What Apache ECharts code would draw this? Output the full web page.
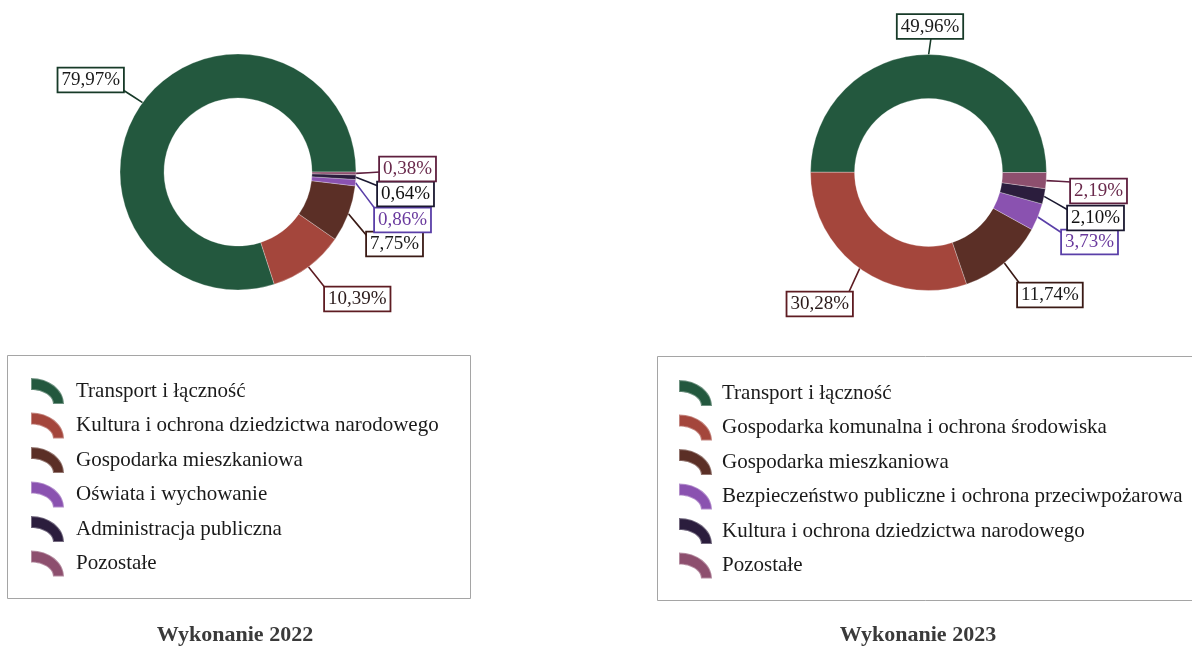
<!DOCTYPE html>
<html>
<head>
<meta charset="utf-8">
<script src="https://cdn.jsdelivr.net/npm/echarts@6/dist/echarts.min.js"></script>
<style>
  html, body { margin: 0; padding: 0; background: #fff; }
  #chart { width: 1192px; height: 646px; }
</style>
</head>
<body>
<div id="chart"></div>
<script>
// data
const names2022 = [
  'Transport i łączność',
  'Kultura i ochrona dziedzictwa narodowego',
  'Gospodarka mieszkaniowa',
  'Oświata i wychowanie',
  'Administracja publiczna',
  'Pozostałe'
];
const values2022 = [79.97, 10.39, 7.75, 0.86, 0.64, 0.38];

const names2023 = [
  'Transport i łączność',
  'Gospodarka komunalna i ochrona środowiska',
  'Gospodarka mieszkaniowa',
  'Bezpieczeństwo publiczne i ochrona przeciwpożarowa',
  'Kultura i ochrona dziedzictwa narodowego',
  'Pozostałe'
];
const values2023 = [49.96, 30.28, 11.74, 3.73, 2.10, 2.19];

const titles = ['Wykonanie 2022', 'Wykonanie 2023'];

// colours (same slot order in both years)
const sliceColors = ['#23583e', '#a4463c', '#5b2f26', '#8a52b0', '#2b1d3d', '#8d4f6e'];
const lineColors = ['#173a28', '#5e1c22', '#3a1a15', '#5a3fa8', '#1a1830', '#5e1f3e'];
const textColors = ['#1a1a1a', '#2a1a1a', '#1a1a1a', '#6a3a9e', '#111', '#6a2a4c'];

// label boxes placement (px), x/y is the anchor of the box
const labelSpec2022 = [
  { x: 123, y: 80, align: 'right', va: 'middle', end: [123, 90] },
  { x: 325, y: 299, align: 'left', va: 'middle', end: [326, 289] },
  { x: 367, y: 244, align: 'left', va: 'middle', end: [367, 236] },
  { x: 375, y: 220, align: 'left', va: 'middle', end: [376, 210] },
  { x: 378, y: 194, align: 'left', va: 'middle', end: [378, 186] },
  { x: 380, y: 169, align: 'left', va: 'middle', end: [380, 172] }
];
const labelSpec2023 = [
  { x: 930, y: 38, align: 'center', va: 'bottom', end: [931, 38] },
  { x: 852, y: 304, align: 'right', va: 'middle', end: [848, 294] },
  { x: 1018, y: 295, align: 'left', va: 'middle', end: [1020, 284] },
  { x: 1062, y: 242, align: 'left', va: 'middle', end: [1062, 233] },
  { x: 1068, y: 218, align: 'left', va: 'middle', end: [1068, 210] },
  { x: 1071, y: 191, align: 'left', va: 'middle', end: [1071, 182] }
];

const serif = '"Liberation Serif", "Times New Roman", serif';
const iconPath = 'path://M0,0 C18.2,0 33,11.6 33,26 L22,26 C22,18.3 12.2,12 0,12 Z';

const fmt = v => v.toFixed(2).replace('.', ',') + '%';

const buildData = (names, values) =>
  names.map((n, i) => ({
    name: n,
    value: values[i],
    itemStyle: { color: sliceColors[i] },
    label: { color: textColors[i], borderColor: lineColors[i] },
    labelLine: { lineStyle: { color: lineColors[i] } }
  }));

const makeLayout = spec => params => {
  const s = spec[params.dataIndex];
  const pts = params.labelLinePoints;
  const start = pts && pts[0] ? pts[0] : s.end;
  const mid = [(start[0] + s.end[0]) / 2, (start[1] + s.end[1]) / 2];
  return {
    x: s.x,
    y: s.y,
    align: s.align,
    verticalAlign: s.va,
    labelLinePoints: [start, mid, s.end]
  };
};

const pieSeries = (names, values, center, spec) => ({
  type: 'pie',
  center: center,
  radius: [74, 118],
  startAngle: 0,
  clockwise: false,
  avoidLabelOverlap: false,
  silent: true,
  itemStyle: { borderColor: 'rgba(255,255,255,0.35)', borderWidth: 0.8 },
  label: {
    show: true,
    position: 'outside',
    formatter: p => fmt(p.value),
    fontFamily: serif,
    fontSize: 19,
    lineHeight: 20,
    backgroundColor: '#fff',
    borderWidth: 1.8,
    padding: [2, 3, 1, 3]
  },
  labelLine: { show: true, length: 10, length2: 10, lineStyle: { width: 1.6 } },
  labelLayout: makeLayout(spec),
  data: buildData(names, values)
});

const legendBlock = (names, left, top, padLeft) => ({
  orient: 'vertical',
  left: left,
  top: top,
  padding: 0,
  itemWidth: 33,
  itemHeight: 26,
  itemGap: 6.5,
  selectedMode: false,
  icon: iconPath,
  textStyle: {
    fontFamily: serif,
    fontSize: 21,
    color: '#1a1a1a',
    padding: [0, 0, 0, padLeft]
  },
  data: names.map((n, i) => ({ name: n, icon: iconPath, itemStyle: { color: sliceColors[i] } }))
});

const chart = echarts.init(document.getElementById('chart'), null, { renderer: 'canvas' });

chart.setOption({
  backgroundColor: '#fff',
  animation: false,
  title: [
    {
      text: titles[0], left: 230, top: 619, textAlign: 'center',
      textStyle: { fontFamily: serif, fontSize: 22, fontWeight: 'bold', color: '#3a3a3a' }
    },
    {
      text: titles[1], left: 913, top: 619, textAlign: 'center',
      textStyle: { fontFamily: serif, fontSize: 22, fontWeight: 'bold', color: '#3a3a3a' }
    }
  ],
  graphic: [
    {
      type: 'rect', shape: { x: 7.5, y: 355.5, width: 463, height: 243 },
      style: { fill: 'none', stroke: '#a5a5a5', lineWidth: 1 }, silent: true, z: -1
    },
    {
      type: 'rect', shape: { x: 657.5, y: 356.5, width: 560, height: 244 },
      style: { fill: 'none', stroke: '#a5a5a5', lineWidth: 1 }, silent: true, z: -1
    }
  ],
  legend: [
    legendBlock(names2022, 30, 377, 7),
    legendBlock(names2023, 678, 379, 5)
  ],
  series: [
    pieSeries(names2022, values2022, [238, 172], labelSpec2022),
    pieSeries(names2023, values2023, [928.5, 172.5], labelSpec2023)
  ]
});
</script>
</body>
</html>
